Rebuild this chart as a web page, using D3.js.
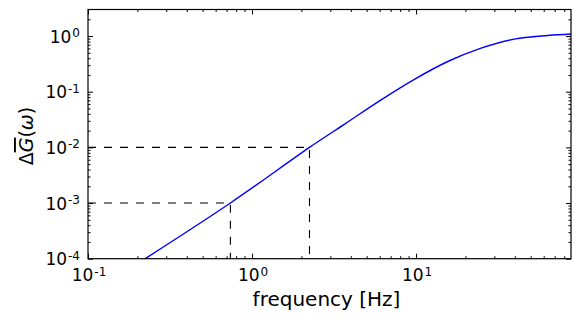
<!DOCTYPE html>
<html>
<head>
<meta charset="utf-8">
<script src="https://cdn.jsdelivr.net/npm/d3@7"></script>
<style>
  body { margin: 0; background: #fff; }
  text { font-family: "DejaVu Sans", sans-serif; fill: #000; }
</style>
</head>
<body>
<div id="chart-area"></div>
<script>
// curve
const freq = [0.223, 0.738, 2.24, 3.69, 6.12, 9.77, 15.6, 24.9, 39.7, 63.5, 88.1];
const gain = [1e-4, 1e-3, 1e-2, 0.0265, 0.0715, 0.167, 0.349, 0.608, 0.883, 1.025, 1.09];

// dashed guide lines
const markFreq = [0.738, 2.24];
const markGain = [1e-3, 1e-2];

const xMajor = [0.1, 1, 10];
const xExp = ['-1', '0', '1'];
const yMajor = [1e-4, 1e-3, 1e-2, 1e-1, 1];
const yExp = ['-4', '-3', '-2', '-1', '0'];

const W = 581, H = 322;
const margins = { top: 9.5, right: 10, bottom: 63.3, left: 88 };

const svg = d3.select('#chart-area')
  .append('svg')
  .attr('width', W)
  .attr('height', H);

const x = d3.scaleLog()
  .domain([0.1, 88])
  .range([margins.left, W - margins.right]);

const y = d3.scaleLog()
  .domain([1e-4, 3])
  .range([H - margins.bottom, margins.top]);

// minor tick positions: 2..9 of each decade inside the domain
function minors(scale) {
  const [a, b] = scale.domain();
  const out = [];
  for (let e = Math.floor(Math.log10(a)); e <= Math.ceil(Math.log10(b)); e++) {
    for (let m = 2; m < 10; m++) {
      const v = m * Math.pow(10, e);
      if (v > a && v < b) out.push(v);
    }
  }
  return out;
}

const pBottom = H - margins.bottom, pTop = margins.top;
const pLeft = margins.left, pRight = W - margins.right;

svg.append('defs').append('clipPath').attr('id', 'clip')
  .append('rect')
  .attr('x', pLeft).attr('y', pTop)
  .attr('width', pRight - pLeft)
  .attr('height', pBottom - pTop);

const plot = svg.append('g').attr('clip-path', 'url(#clip)');

// guides
plot.selectAll('path.guide')
  .data(markFreq)
  .enter()
  .append('path')
  .attr('class', 'guide')
  .attr('d', (f, i) => d3.line()([
    [pLeft, y(markGain[i])],
    [x(f), y(markGain[i])],
    [x(f), pBottom]
  ]))
  .attr('fill', 'none')
  .attr('stroke', '#000')
  .attr('stroke-width', 1.1)
  .attr('stroke-dasharray', '8,8');

// curve
plot.append('path')
  .datum(freq.map((f, i) => [f, gain[i]]))
  .attr('d', d3.line()
    .x(d => x(d[0]))
    .y(d => y(d[1]))
    .curve(d3.curveCatmullRom.alpha(0.5)))
  .attr('fill', 'none')
  .attr('stroke', '#0000ff')
  .attr('stroke-width', 1.4);

// ticks, inside on all four sides
const major = 5, minor = 2.5;
function ticks(axis, scale, len, vals) {
  return axis(scale).tickValues(vals).tickSize(len).tickFormat('');
}

const axes = [
  [d3.axisBottom, x, `translate(0,${pBottom})`],
  [d3.axisTop, x, `translate(0,${pTop})`],
  [d3.axisLeft, y, `translate(${pLeft},0)`],
  [d3.axisRight, y, `translate(${pRight},0)`]
];
axes.forEach(([axis, scale, tr]) => {
  const isX = scale === x;
  svg.append('g').attr('transform', tr)
    .call(ticks(axis, scale, -major, isX ? xMajor : yMajor))
    .call(g => g.select('.domain').remove());
  svg.append('g').attr('transform', tr)
    .call(ticks(axis, scale, -minor, minors(scale)))
    .call(g => g.select('.domain').remove());
});
svg.selectAll('.tick line').attr('stroke', '#000').attr('stroke-width', 1);

// frame
svg.append('rect')
  .attr('x', pLeft).attr('y', pTop)
  .attr('width', pRight - pLeft).attr('height', pBottom - pTop)
  .attr('fill', 'none')
  .attr('stroke', '#000')
  .attr('stroke-width', 1.2);

// tick labels
const xl = svg.selectAll('text.xl')
  .data(xMajor)
  .enter()
  .append('text')
  .attr('class', 'xl')
  .attr('x', d => x(d) + 1)
  .attr('y', 281)
  .attr('text-anchor', 'middle')
  .style('font-size', '17px');
xl.append('tspan').text('10');
xl.append('tspan').attr('dy', '-0.45em').attr('dx', 1).style('font-size', '12px')
  .text((d, i) => xExp[i]);

const yl = svg.selectAll('text.yl')
  .data(yMajor)
  .enter()
  .append('text')
  .attr('class', 'yl')
  .attr('x', 80)
  .attr('y', d => y(d) + 6.5)
  .attr('text-anchor', 'end')
  .style('font-size', '17px');
yl.append('tspan').text('10');
yl.append('tspan').attr('dy', '-0.45em').attr('dx', 1).style('font-size', '12px')
  .text((d, i) => yExp[i]);

// axis labels
svg.append('text')
  .attr('x', (pLeft + pRight) / 2 - 3)
  .attr('y', 306)
  .attr('text-anchor', 'middle')
  .style('font-size', '20px')
  .text('frequency [Hz]');

const yt = svg.append('text')
  .attr('transform', `translate(33,${(pTop + pBottom) / 2 + 2}) rotate(-90)`)
  .attr('text-anchor', 'middle')
  .style('font-size', '19px');
yt.append('tspan').text('\u0394');
yt.append('tspan').style('font-style', 'italic')
  .style('text-decoration', 'overline').text('G');
yt.append('tspan').text('(');
yt.append('tspan').style('font-style', 'italic').text('\u03c9');
yt.append('tspan').text(')');
</script>
</body>
</html>
